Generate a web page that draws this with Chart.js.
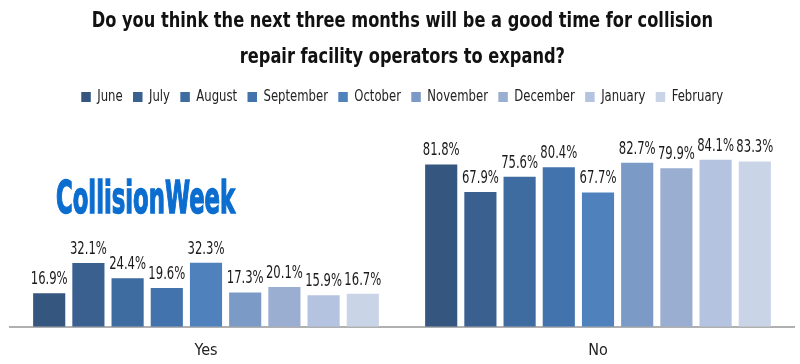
<!DOCTYPE html>
<html>
<head>
<meta charset="utf-8">
<script src="https://cdn.jsdelivr.net/npm/chart.js@4.4.0/dist/chart.umd.min.js"></script>
<style>
  body { margin:0; background:#fff; }
  #wrap { position:relative; width:800px; height:364px; }
  #logo {
    position:absolute; left:56px; top:176px;
    font-family:"DejaVu Sans Condensed","DejaVu Sans",sans-serif;
    font-weight:bold; font-size:44px; color:#0b6dcf; letter-spacing:0;
    -webkit-text-stroke:1.4px #0b6dcf;
    transform-origin:0 0; transform:scale(0.575,1);
    line-height:1; white-space:nowrap;
  }
</style>
</head>
<body>
<div id="wrap">
  <canvas id="chart" width="800" height="364"></canvas>
  <div id="logo">CollisionWeek</div>
</div>
<script>
// data
var categories = ['Yes', 'No']
var months = ['June', 'July', 'August', 'September', 'October', 'November', 'December', 'January', 'February']
var yesValues = [16.9, 32.1, 24.4, 19.6, 32.3, 17.3, 20.1, 15.9, 16.7]
var noValues = [81.8, 67.9, 75.6, 80.4, 67.7, 82.7, 79.9, 84.1, 83.3]
var colors = ['#34567f', '#3a6090', '#3e6ba0', '#4373ad', '#4f81bd', '#7b9ac6', '#9aaed1', '#b4c3df', '#cad4e7']

var fontFam = '"DejaVu Sans Condensed","DejaVu Sans",sans-serif'

datasets = months.map((m, i) => ({
    label: m,
    data: [yesValues[i], noValues[i]],
    backgroundColor: colors[i],
    borderWidth: 0,
    categoryPercentage: 0.9,
    barPercentage: 0.82
}))

// value labels above bars (squeezed to look condensed)
var valueLabels = {
    id: 'valueLabels',
    afterDatasetsDraw(chart) {
        var ctx = chart.ctx
        chart.data.datasets.forEach((ds, i) => {
            chart.getDatasetMeta(i).data.forEach((bar, j) => {
                ctx.save()
                ctx.font = '17px ' + fontFam
                ctx.fillStyle = '#1a1a1a'
                ctx.textAlign = 'center'
                ctx.textBaseline = 'bottom'
                ctx.translate(bar.x, bar.y - 5)
                ctx.scale(0.76, 1)
                ctx.fillText(ds.data[j].toFixed(1) + '%', 0, 0)
                ctx.restore()
            })
        })
    }
}

var ctx = document.getElementById('chart').getContext('2d')
var chart = new Chart(ctx, {
    type: 'bar',
    data: { labels: categories, datasets: datasets },
    plugins: [valueLabels],
    options: {
        responsive: false,
        animation: false,
        layout: { padding: { left: 10, right: 6, top: 4, bottom: -10 } },
        plugins: {
            title: {
                display: true,
                text: ['Do you think the next three months will be a good time for collision', 'repair facility operators to expand?'],
                font: { family: fontFam, size: 22, weight: 'bold', lineHeight: 1.6 },
                color: '#111',
                padding: { top: 0, bottom: 3 }
            },
            legend: {
                labels: {
                    boxWidth: 11, boxHeight: 10,
                    font: { family: fontFam, size: 15 },
                    color: '#222',
                    padding: 12
                }
            },
            tooltip: { enabled: false }
        },
        scales: {
            x: {
                grid: { display: false, drawTicks: false },
                border: { color: '#b0b0b0', width: 2 },
                ticks: { font: { family: fontFam, size: 16 }, color: '#222', padding: 14 }
            },
            y: {
                display: false,
                min: 0, max: 107
            }
        }
    }
})

// condense title and legend horizontally
function squeeze(box, sx, cx) {
    var orig = box.draw
    box.draw = function () {
        ctx.save()
        ctx.translate(cx, 0)
        ctx.scale(sx, 1)
        ctx.translate(-cx, 0)
        orig.apply(this, arguments)
        ctx.restore()
    }
}
squeeze(chart.titleBlock, 0.82, 404)
squeeze(chart.legend, 0.864, 404)
chart.draw()
</script>
</body>
</html>
